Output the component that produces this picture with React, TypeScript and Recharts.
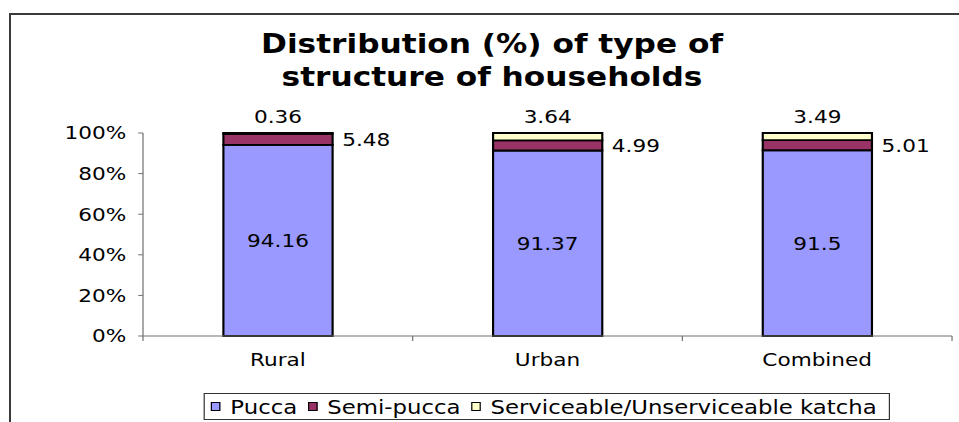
import React from 'react';
import { BarChart, Bar, XAxis, YAxis, LabelList } from 'recharts';

const categories = ['Rural', 'Urban', 'Combined'];
const pucca = [94.16, 91.37, 91.5];
const semiPucca = [5.48, 4.99, 5.01];
const katcha = [0.36, 3.64, 3.49];
const yTicks = [0, 20, 40, 60, 80, 100];
const seriesNames = ['Pucca', 'Semi-pucca', 'Serviceable/Unserviceable katcha'];
const seriesKeys = ['pucca', 'semi', 'katcha'];
const seriesColors = ['#9999FF', '#993366', '#FFFFCC'];
const titleLines = ['Distribution (%) of type of', 'structure of households'];

const data = categories.map((c, i) => ({
  category: c,
  pucca: pucca[i],
  semi: semiPucca[i],
  katcha: katcha[i],
}));

const SX = 1.2;
const W = 792;
const H = 414;
const MARGIN = { top: 125, right: 5.3, bottom: 56, left: 52.5 };
const Y_AXIS_W = 60;
const X_AXIS_H = 30;
const PLOT_LEFT = MARGIN.left + Y_AXIS_W;
const PLOT_RIGHT = W - MARGIN.right;
const PLOT_BOTTOM = H - MARGIN.bottom - X_AXIS_H;
const BAND = (PLOT_RIGHT - PLOT_LEFT) / categories.length;
const AXIS_COLOR = '#707070';
const FONT = '"DejaVu Sans", Verdana, sans-serif';

function XTick(props: any) {
  const { x, y, payload, index } = props;
  const left = x - BAND / 2;
  const right = x + BAND / 2;
  return (
    <g>
      <line x1={left} x2={left} y1={PLOT_BOTTOM} y2={PLOT_BOTTOM + 5} stroke={AXIS_COLOR} />
      {index === categories.length - 1 && (
        <line x1={right} x2={right} y1={PLOT_BOTTOM} y2={PLOT_BOTTOM + 5} stroke={AXIS_COLOR} />
      )}
      <text x={x} y={y} dy="0.71em" textAnchor="middle" fontSize={18} fill="#000">
        {payload.value}
      </text>
    </g>
  );
}

export default function App() {
  return (
    <div style={{ position: 'relative', width: 959, height: 422, overflow: 'hidden', background: '#fff' }}>
      <style>{'html,body{margin:0;padding:0;overflow:hidden}#root{width:959px;height:422px}'}</style>
      <div
        style={{
          position: 'absolute',
          left: 9,
          top: 13,
          width: 960,
          height: 420,
          borderLeft: '2px solid #3a3a3a',
          borderTop: '2px solid #3a3a3a',
        }}
      />
      <div
        style={{
          position: 'absolute',
          left: 8,
          top: 8,
          width: W,
          height: H,
          transform: `scaleX(${SX})`,
          transformOrigin: '0 0',
          fontFamily: FONT,
          color: '#000',
        }}
      >
        <BarChart width={W} height={H} data={data} margin={MARGIN}>
          <XAxis
            dataKey="category"
            height={X_AXIS_H}
            tickSize={5}
            tickMargin={12}
            tickLine={false}
            axisLine={{ stroke: AXIS_COLOR }}
            tick={(p: any) => <XTick {...p} />}
            interval={0}
          />
          <YAxis
            domain={[0, 100]}
            ticks={yTicks}
            interval={0}
            tickFormatter={(v: number) => `${v}%`}
            width={Y_AXIS_W}
            tickSize={4}
            tickMargin={10}
            axisLine={{ stroke: AXIS_COLOR }}
            tickLine={{ stroke: AXIS_COLOR }}
            tick={{ fill: '#000', fontSize: 18 }}
          />
          <Bar dataKey="pucca" name={seriesNames[0]} stackId="a" fill={seriesColors[0]} stroke="#000" strokeWidth={1.8} barSize={91} isAnimationActive={false}>
            <LabelList dataKey="pucca" position="center" fill="#000" fontSize={18} />
          </Bar>
          <Bar dataKey="semi" name={seriesNames[1]} stackId="a" fill={seriesColors[1]} stroke="#000" strokeWidth={1.8} barSize={91} isAnimationActive={false}>
            <LabelList dataKey="semi" position="right" offset={8} fill="#000" fontSize={18} />
          </Bar>
          <Bar dataKey="katcha" name={seriesNames[2]} stackId="a" fill={seriesColors[2]} stroke="#000" strokeWidth={1.8} barSize={91} isAnimationActive={false}>
            <LabelList dataKey="katcha" position="top" offset={10} fill="#000" fontSize={18} />
          </Bar>
        </BarChart>
        <div
          style={{
            position: 'absolute',
            left: 0,
            top: 20,
            width: 806.7,
            textAlign: 'center',
            fontSize: 26,
            fontWeight: 'bold',
            lineHeight: '33px',
            whiteSpace: 'nowrap',
          }}
        >
          {titleLines.map((t) => (
            <div key={t}>{t}</div>
          ))}
        </div>
        <div
          style={{
            position: 'absolute',
            left: 163.3,
            top: 385,
            width: 572,
            height: 27,
            boxSizing: 'border-box',
            border: '1px solid #333',
            display: 'flex',
            alignItems: 'center',
            paddingLeft: 5,
            fontSize: 19,
            whiteSpace: 'nowrap',
          }}
        >
          {seriesKeys.map((k, i) => (
            <div key={k} style={{ display: 'flex', alignItems: 'center', marginRight: 9 }}>
              <span
                style={{
                  display: 'inline-block',
                  width: 8,
                  height: 9,
                  boxSizing: 'border-box',
                  border: '1px solid #000',
                  background: seriesColors[i],
                  marginRight: 8,
                }}
              />
              <span>{seriesNames[i]}</span>
            </div>
          ))}
        </div>
      </div>
    </div>
  );
}
